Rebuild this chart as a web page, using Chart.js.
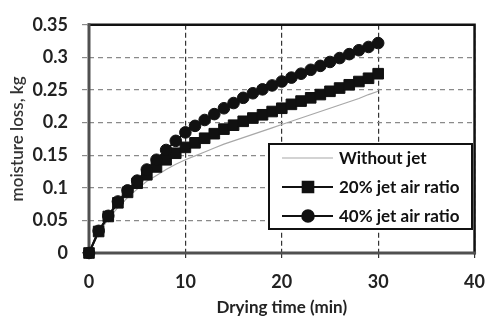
<!DOCTYPE html>
<html>
<head>
<meta charset="utf-8">
<script src="https://cdn.jsdelivr.net/npm/chart.js@4.4.0/dist/chart.umd.min.js"></script>
<style>
  body { margin: 0; background: #fff; }
</style>
</head>
<body>
<canvas id="c" width="498" height="320"></canvas>
<script>
// drying time (min)
const times = [0, 1, 2, 3, 4, 5, 6, 7, 8, 9, 10, 11, 12, 13, 14, 15, 16, 17, 18, 19, 20,
               21, 22, 23, 24, 25, 26, 27, 28, 29, 30];
// moisture loss (kg)
const withoutJet = [0, 0.030, 0.052, 0.070, 0.085, 0.098, 0.110, 0.119, 0.128, 0.136, 0.143,
                    0.149, 0.155, 0.161, 0.167, 0.172, 0.177, 0.182, 0.187, 0.192, 0.197,
                    0.202, 0.207, 0.212, 0.217, 0.222, 0.227, 0.232, 0.237, 0.243, 0.248];
const jet20 = [0, 0.033, 0.056, 0.077, 0.093, 0.107, 0.120, 0.132, 0.143, 0.153, 0.162,
               0.169, 0.176, 0.183, 0.190, 0.196, 0.202, 0.207, 0.212, 0.217, 0.222,
               0.228, 0.233, 0.238, 0.243, 0.248, 0.253, 0.258, 0.263, 0.268, 0.275];
const jet40 = [0, 0.034, 0.057, 0.079, 0.096, 0.111, 0.128, 0.143, 0.158, 0.172, 0.185,
               0.195, 0.204, 0.213, 0.222, 0.230, 0.238, 0.245, 0.251, 0.257, 0.263,
               0.269, 0.275, 0.281, 0.287, 0.293, 0.299, 0.305, 0.311, 0.316, 0.322];
const seriesNames = ['Without jet', '20% jet air ratio', '40% jet air ratio'];
const xTickValues = [0, 10, 20, 30, 40];
const yTickValues = [0, 0.05, 0.1, 0.15, 0.2, 0.25, 0.3, 0.35];

const pts = arr => times.map((t, i) => ({ x: t, y: arr[i] }));
const FONT = 'Lato, "Open Sans", sans-serif';

// frame round the plot area (left/bottom grey, top/right black)
const frame = {
  id: 'frame',
  beforeDatasetsDraw(chart) {
    const { ctx, chartArea: a } = chart;
    ctx.save();
    ctx.lineCap = 'square';
    ctx.strokeStyle = '#111';
    ctx.lineWidth = 2.5;
    ctx.beginPath();
    ctx.moveTo(a.left, a.top); ctx.lineTo(a.right, a.top); ctx.lineTo(a.right, a.bottom);
    ctx.stroke();
    ctx.strokeStyle = '#505050';
    ctx.lineWidth = 3;
    ctx.beginPath();
    ctx.moveTo(a.left, a.top); ctx.lineTo(a.left, a.bottom); ctx.lineTo(a.right, a.bottom);
    ctx.stroke();
    ctx.restore();
  }
};

// legend box inside the plot
const legendBox = {
  id: 'legendBox',
  afterDatasetsDraw(chart) {
    const ctx = chart.ctx;
    const x0 = 269, y0 = 144, w = 203, h = 85;
    ctx.save();
    ctx.fillStyle = '#fff';
    ctx.fillRect(x0, y0, w, h);
    ctx.lineWidth = 2;
    ctx.strokeStyle = '#111';
    ctx.strokeRect(x0, y0, w, h);
    chart.data.datasets.forEach((ds, i) => {
      const y = y0 + 14 + i * 29;
      ctx.beginPath();
      ctx.moveTo(x0 + 13, y); ctx.lineTo(x0 + 64, y);
      ctx.strokeStyle = ds.borderColor;
      ctx.lineWidth = ds.borderWidth;
      ctx.stroke();
      if (ds.pointRadius > 0) {
        ctx.fillStyle = ds.pointBackgroundColor;
        ctx.strokeStyle = ds.pointBorderColor;
        Chart.helpers.drawPoint(ctx, { pointStyle: ds.pointStyle, radius: ds.pointRadius, borderWidth: 1, rotation: 0 }, x0 + 39, y);
      }
      ctx.fillStyle = '#111';
      ctx.font = 'bold 17px ' + FONT;
      ctx.textBaseline = 'middle';
      ctx.textAlign = 'left';
      ctx.fillText(ds.label, x0 + 70, y + 1);
    });
    ctx.restore();
  }
};

new Chart(document.getElementById('c'), {
  type: 'line',
  data: {
    datasets: [
      {
        label: seriesNames[0], data: pts(withoutJet),
        borderColor: '#a8a8a8', borderWidth: 1.2, pointRadius: 0, order: 3, clip: false
      },
      {
        label: seriesNames[1], data: pts(jet20),
        borderColor: '#111', borderWidth: 2, pointStyle: 'rect', pointRadius: 7.5,
        pointBackgroundColor: '#111', pointBorderColor: '#111', pointBorderWidth: 1, order: 2, clip: false
      },
      {
        label: seriesNames[2], data: pts(jet40),
        borderColor: '#111', borderWidth: 2, pointStyle: 'circle', pointRadius: 5.8,
        pointBackgroundColor: '#111', pointBorderColor: '#111', pointBorderWidth: 1, order: 1, clip: false
      }
    ]
  },
  options: {
    responsive: false,
    animation: false,
    devicePixelRatio: 1,
    layout: { padding: { top: 18, right: 11, left: 0, bottom: 0 } },
    plugins: { legend: { display: false }, tooltip: { enabled: false } },
    scales: {
      x: {
        type: 'linear', min: 0, max: 40,
        afterFit: s => { s.height = 67; },
        afterBuildTicks: s => { s.ticks = xTickValues.map(v => ({ value: v })); },
        border: { display: false, dash: [5, 3] },
        grid: { color: '#333', lineWidth: 1.2, tickLength: 5, tickColor: '#333', tickBorderDash: [5, 3] },
        ticks: { color: '#222', padding: 13, font: { family: FONT, size: 18, weight: 'bold' } },
        title: {
          display: true, text: 'Drying time (min)', color: '#222',
          font: { family: FONT, size: 17, weight: 'bold' }, padding: { top: 0, bottom: 2 }
        }
      },
      y: {
        min: 0, max: 0.35,
        afterFit: s => { s.width = 89; },
        afterBuildTicks: s => { s.ticks = yTickValues.map(v => ({ value: v })); },
        border: { display: false, dash: [5, 4] },
        grid: { color: '#8a8a8a', lineWidth: 1.2, tickLength: 7, tickColor: '#8a8a8a', tickBorderDash: [5, 4] },
        ticks: {
          color: '#222', padding: 14, font: { family: FONT, size: 18, weight: 'bold' },
          callback: v => String(parseFloat(v.toFixed(2)))
        },
        title: {
          display: true, text: 'moisture loss, kg', color: '#333',
          font: { family: FONT, size: 17, weight: '600' }, padding: { top: 7, bottom: 0 }
        }
      }
    }
  },
  plugins: [frame, legendBox]
});
</script>
</body>
</html>
